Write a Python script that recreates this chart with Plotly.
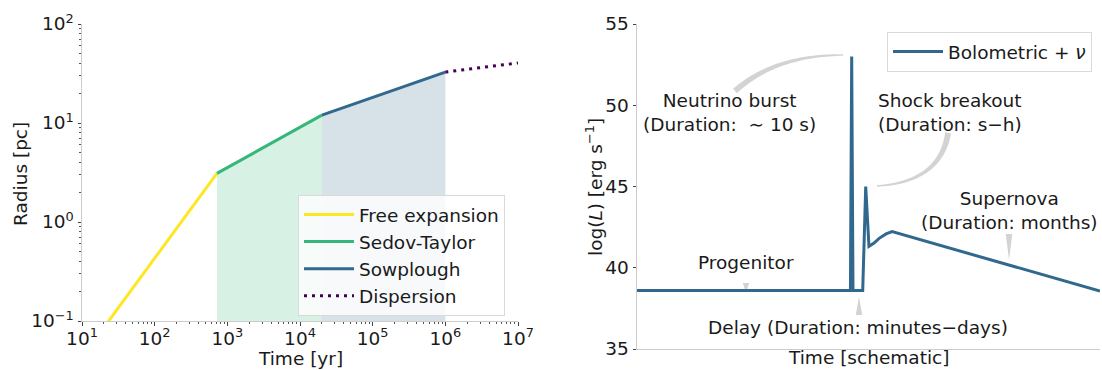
import numpy as np
import plotly.graph_objects as go

# ---------------- data: remnant radius vs. time ----------------
free_t = [10, 720]
free_r = [0.043, 3.1]
sedov_t = [720, 2.0e4]
sedov_r = [3.1, 12.0]
snow_t = [2.0e4, 1.0e6]
snow_r = [12.0, 32.7]
disp_t = [1.0e6, 1.0e7]
disp_r = [32.7, 40.4]

log_ticks = [10, 100, 1e3, 1e4, 1e5, 1e6, 1e7]
log_ticktext = ["10<sup>1</sup>", "10<sup>2</sup>", "10<sup>3</sup>", "10<sup>4</sup>",
                "10<sup>5</sup>", "10<sup>6</sup>", "10<sup>7</sup>"]
r_ticks = [0.1, 1, 10, 100]
r_ticktext = ["10<sup>−1</sup>", "10<sup>0</sup>", "10<sup>1</sup>", "10<sup>2</sup>"]

# ---------------- data: schematic light curve ----------------
lc_t = [0, 46.1, 46.37, 46.65, 48.75, 49.4, 50.1, 51.2, 52.3, 53.8, 55.1, 100]
lc_logL = [38.6, 38.6, 53.0, 38.6, 38.6, 45.0, 41.32, 41.52, 41.81, 42.08, 42.22, 38.57]
lum_ticks = [35, 40, 45, 50, 55]

W, H = 1102, 370
FONT = "DejaVu Sans"
TXT = "#1a1a1a"
FS = 18.5

C_FREE = "#fde725"
C_SEDOV = "#35b779"
C_SNOW = "#31688e"
C_DISP = "#440154"
C_LC = "#31688e"
SPINE = "#cccccc"

# panel geometry (pixels)
LX0, LX1, LY0, LY1 = 82, 518, 24, 321
RX0, RX1, RY0, RY1 = 637, 1100, 24, 349
RXR = (0, 100)
RYR = (35, 55)

fig = go.Figure()

# shaded phases
fig.add_trace(go.Scatter(
    x=[sedov_t[0], sedov_t[0], sedov_t[1], sedov_t[1]],
    y=[1e-3, sedov_r[0], sedov_r[1], 1e-3],
    fill="toself", fillcolor="rgba(53,183,121,0.2)", line=dict(width=0),
    mode="lines", showlegend=False, hoverinfo="skip", xaxis="x", yaxis="y"))
fig.add_trace(go.Scatter(
    x=[snow_t[0], snow_t[0], snow_t[1], snow_t[1]],
    y=[1e-3, snow_r[0], snow_r[1], 1e-3],
    fill="toself", fillcolor="rgba(49,104,142,0.2)", line=dict(width=0),
    mode="lines", showlegend=False, hoverinfo="skip", xaxis="x", yaxis="y"))

fig.add_trace(go.Scatter(x=free_t, y=free_r, mode="lines", name="Free expansion",
                         line=dict(color=C_FREE, width=3), xaxis="x", yaxis="y", legend="legend"))
fig.add_trace(go.Scatter(x=sedov_t, y=sedov_r, mode="lines", name="Sedov-Taylor",
                         line=dict(color=C_SEDOV, width=3), xaxis="x", yaxis="y", legend="legend"))
fig.add_trace(go.Scatter(x=snow_t, y=snow_r, mode="lines", name="Sowplough",
                         line=dict(color=C_SNOW, width=3), xaxis="x", yaxis="y", legend="legend"))
fig.add_trace(go.Scatter(x=disp_t, y=disp_r, mode="lines", name="Dispersion",
                         line=dict(color=C_DISP, width=3, dash="3px,5px"),
                         xaxis="x", yaxis="y", legend="legend"))

fig.add_trace(go.Scatter(x=lc_t, y=lc_logL, mode="lines", name="Bolometric + <i>ν</i>",
                         line=dict(color=C_LC, width=3), xaxis="x2", yaxis="y2",
                         legend="legend2"))

minor_x = [m * 10 ** k for k in range(1, 7) for m in range(2, 10)]
minor_y = [m * 10 ** k for k in range(-1, 2) for m in range(2, 10)]


def to_px(x, y):
    px = RX0 + (x - RXR[0]) / (RXR[1] - RXR[0]) * (RX1 - RX0)
    py = RY1 - (y - RYR[0]) / (RYR[1] - RYR[0]) * (RY1 - RY0)
    return px, py


def to_data(px, py):
    x = RXR[0] + (px - RX0) / (RX1 - RX0) * (RXR[1] - RXR[0])
    y = RYR[0] + (RY1 - py) / (RY1 - RY0) * (RYR[1] - RYR[0])
    return x, y


def wedge(p0, p1, p2, w0, w1, n=40):
    """Tapered arrow along a quadratic Bezier, wide (w0) at p0, narrow (w1) at p2."""
    a = np.array(to_px(*p0))
    b = np.array(to_px(*p1))
    c = np.array(to_px(*p2))
    s = np.linspace(0, 1, n)[:, None]
    pts = (1 - s) ** 2 * a + 2 * (1 - s) * s * b + s ** 2 * c
    tan = 2 * (1 - s) * (b - a) + 2 * s * (c - b)
    tan = tan / np.linalg.norm(tan, axis=1, keepdims=True)
    nrm = np.column_stack([-tan[:, 1], tan[:, 0]])
    hw = (w0 * (1 - s) + w1 * s) / 2
    left = pts + nrm * hw
    right = pts - nrm * hw
    poly = np.vstack([left, right[::-1]])
    parts = []
    for i, (px, py) in enumerate(poly):
        x, y = to_data(px, py)
        parts.append(("M" if i == 0 else "L") + f"{x:.4f},{y:.4f}")
    return " ".join(parts) + " Z"


def straight(p0, p2, w0, w1):
    mid = ((p0[0] + p2[0]) / 2, (p0[1] + p2[1]) / 2)
    return wedge(p0, mid, p2, w0, w1, n=3)


ARROW = "#d3d3d3"
paths = [
    wedge((21.17, 50.88), (29.8, 53.09), (44.5, 53.09), 6, 1.5),   # neutrino burst
    wedge((67.2, 48.29), (65.5, 45.28), (51.8, 45.03), 6, 1.5),    # shock breakout
    straight((23.54, 39.06), (23.54, 38.50), 6.5, 0.5),             # progenitor
    straight((80.35, 42.08), (80.35, 40.60), 6.5, 0.5),             # supernova
    straight((47.95, 37.09), (47.95, 38.14), 6.5, 0.5),             # delay
]
shapes = [dict(type="path", path=p, xref="x2", yref="y2", fillcolor=ARROW,
               line=dict(width=0), layer="below") for p in paths]

ann_font = dict(family=FONT, size=FS, color=TXT)
annotations = [
    dict(x=19.98, y=49.58, text="Neutrino burst<br>(Duration:  ∼ 10 s)", xanchor="center",
         yanchor="middle", align="center"),
    dict(x=51.6, y=49.55, text="Shock breakout<br>(Duration: s−h)", xanchor="left",
         yanchor="middle", align="left"),
    dict(x=80.5, y=43.55, text="Supernova<br>(Duration: months)", xanchor="center",
         yanchor="middle", align="center"),
    dict(x=23.5, y=40.32, text="Progenitor", xanchor="center", yanchor="middle"),
    dict(x=47.7, y=36.35, text="Delay (Duration: minutes−days)", xanchor="center",
         yanchor="middle"),
]
for a in annotations:
    a.update(xref="x2", yref="y2", showarrow=False, font=ann_font)

# axis titles, placed in paper coordinates
titles = [
    dict(x=300 / W, y=1 - 358 / H, text="Time [yr]", textangle=0),
    dict(x=20 / W, y=1 - 174 / H, text="Radius [pc]", textangle=-90),
    dict(x=868 / W, y=1 - 357 / H, text="Time [schematic]", textangle=0),
    dict(x=594 / W, y=1 - 187 / H, text="log(<i>L</i>) [erg s<sup>−1</sup>]", textangle=-90),
]
for t in titles:
    t.update(xref="paper", yref="paper", xanchor="center", yanchor="middle",
             showarrow=False, font=ann_font)
annotations += titles

axis_common = dict(showgrid=False, zeroline=False, showline=True, linecolor=SPINE,
                   linewidth=1, ticks="outside", ticklen=3.5, tickwidth=1, automargin=False,
                   tickcolor="#444444", tickfont=dict(family=FONT, size=FS, color=TXT))

fig.update_layout(
    width=W, height=H, margin=dict(l=0, r=0, t=0, b=0),
    paper_bgcolor="white", plot_bgcolor="white",
    font=dict(family=FONT, size=FS, color=TXT),
    xaxis=dict(**axis_common, type="log", range=[1, 7],
               domain=[LX0 / W, LX1 / W], anchor="y", ticklabelstandoff=-3,
               tickmode="array", tickvals=log_ticks, ticktext=log_ticktext,
               minor=dict(tickmode="array", tickvals=minor_x, ticks="outside",
                          ticklen=2, tickwidth=1, tickcolor="#555555")),
    yaxis=dict(**axis_common, type="log", range=[-1, 2],
               domain=[1 - LY1 / H, 1 - LY0 / H], anchor="x",
               tickmode="array", tickvals=r_ticks, ticktext=r_ticktext,
               minor=dict(tickmode="array", tickvals=minor_y, ticks="outside",
                          ticklen=2, tickwidth=1, tickcolor="#555555")),
    xaxis2=dict(showgrid=False, zeroline=False, showline=True, linecolor=SPINE,
                linewidth=1, showticklabels=False, ticks="", range=list(RXR),
                domain=[RX0 / W, RX1 / W], anchor="y2", automargin=False),
    yaxis2=dict(**axis_common, range=list(RYR),
                domain=[1 - RY1 / H, 1 - RY0 / H], anchor="x2",
                tickmode="array", tickvals=lum_ticks),
    legend=dict(x=298 / W, y=1 - 195 / H, xanchor="left", yanchor="top", itemwidth=50,
                bgcolor="rgba(255,255,255,0.8)", bordercolor="#d9d9d9", borderwidth=1,
                font=dict(family=FONT, size=FS, color=TXT)),
    legend2=dict(x=1092 / W, y=1 - 32 / H, xanchor="right", yanchor="top", itemwidth=50,
                 bgcolor="rgba(255,255,255,0.8)", bordercolor="#d9d9d9", borderwidth=1,
                 font=dict(family=FONT, size=FS, color=TXT)),
    shapes=shapes,
    annotations=annotations,
)

fig.write_html("out.html")
